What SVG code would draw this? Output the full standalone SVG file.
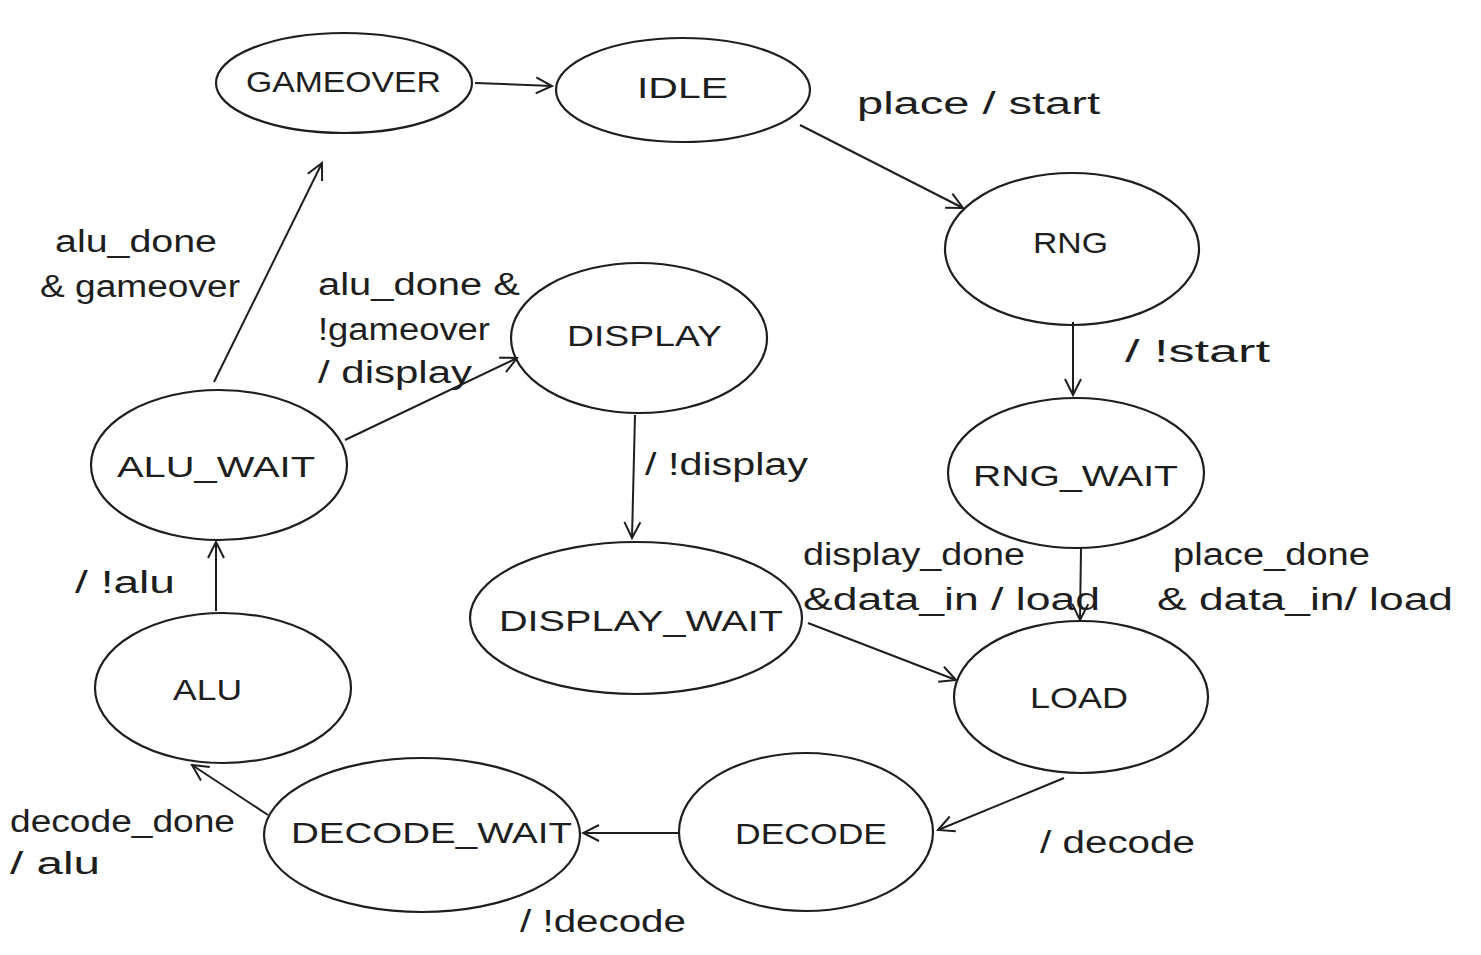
<svg xmlns="http://www.w3.org/2000/svg" width="1481" height="955" viewBox="0 0 1481 955">
<style>
.n ellipse{fill:none;stroke:#1e1e1e;stroke-width:2.2}
.n text{font-family:"Liberation Sans",Arial,sans-serif;font-size:29px;fill:#1e1e1e;text-anchor:start}
.c line{stroke:#1e1e1e;stroke-width:2;fill:none}
.l text{font-family:"Liberation Sans",Arial,sans-serif;font-size:31px;fill:#1e1e1e}
</style>
<defs>
<marker id="a" viewBox="0 0 20 20" refX="18" refY="10" markerWidth="20" markerHeight="20" markerUnits="userSpaceOnUse" orient="auto">
<path d="M2,2 L18,10 L2,18" fill="none" stroke="#1e1e1e" stroke-width="2"/>
</marker>
</defs>
<rect width="1481" height="955" fill="#fff"/>
<g class="n" id="gameover"><ellipse cx="344" cy="83" rx="128" ry="50"/><text x="246" y="92" textLength="195" lengthAdjust="spacingAndGlyphs">GAMEOVER</text></g>
<g class="n" id="idle"><ellipse cx="683" cy="90" rx="127" ry="52"/><text x="637" y="98" textLength="91" lengthAdjust="spacingAndGlyphs">IDLE</text></g>
<g class="n" id="rng"><ellipse cx="1072" cy="249" rx="127" ry="76"/><text x="1033" y="253" textLength="75" lengthAdjust="spacingAndGlyphs">RNG</text></g>
<g class="n" id="rng_wait"><ellipse cx="1076" cy="473" rx="128" ry="75"/><text x="973" y="486" textLength="205" lengthAdjust="spacingAndGlyphs">RNG_WAIT</text></g>
<g class="n" id="display"><ellipse cx="639" cy="338" rx="128" ry="75"/><text x="567" y="346" textLength="155" lengthAdjust="spacingAndGlyphs">DISPLAY</text></g>
<g class="n" id="alu_wait"><ellipse cx="219" cy="465" rx="128" ry="75"/><text x="117" y="477" textLength="198" lengthAdjust="spacingAndGlyphs">ALU_WAIT</text></g>
<g class="n" id="display_wait"><ellipse cx="636" cy="618" rx="166" ry="76"/><text x="499" y="631" textLength="284" lengthAdjust="spacingAndGlyphs">DISPLAY_WAIT</text></g>
<g class="n" id="load"><ellipse cx="1081" cy="697" rx="127" ry="76"/><text x="1030" y="708" textLength="98" lengthAdjust="spacingAndGlyphs">LOAD</text></g>
<g class="n" id="alu"><ellipse cx="223" cy="688" rx="128" ry="75"/><text x="173" y="700" textLength="69" lengthAdjust="spacingAndGlyphs">ALU</text></g>
<g class="n" id="decode_wait"><ellipse cx="422" cy="835" rx="158" ry="77"/><text x="291" y="843" textLength="281" lengthAdjust="spacingAndGlyphs">DECODE_WAIT</text></g>
<g class="n" id="decode"><ellipse cx="806" cy="832" rx="127" ry="79"/><text x="735" y="844" textLength="152" lengthAdjust="spacingAndGlyphs">DECODE</text></g>
<g class="c" id="connectors">
<line x1="475" y1="83" x2="552" y2="86" marker-end="url(#a)"/>
<line x1="800" y1="125" x2="963" y2="208" marker-end="url(#a)"/>
<line x1="1073" y1="322" x2="1073" y2="395" marker-end="url(#a)"/>
<line x1="1081" y1="548" x2="1080" y2="620" marker-end="url(#a)"/>
<line x1="808" y1="623" x2="956" y2="680" marker-end="url(#a)"/>
<line x1="635" y1="415" x2="632" y2="538" marker-end="url(#a)"/>
<line x1="345" y1="440" x2="517" y2="358" marker-end="url(#a)"/>
<line x1="214" y1="382" x2="322" y2="163" marker-end="url(#a)"/>
<line x1="216" y1="611" x2="216" y2="542" marker-end="url(#a)"/>
<line x1="268" y1="815" x2="192" y2="765" marker-end="url(#a)"/>
<line x1="680" y1="833" x2="583" y2="833" marker-end="url(#a)"/>
<line x1="1064" y1="778" x2="938" y2="830" marker-end="url(#a)"/>
</g>
<g class="l" id="labels">
<text x="857" y="114" textLength="243" lengthAdjust="spacingAndGlyphs">place / start</text>
<text x="1125" y="362" textLength="145" lengthAdjust="spacingAndGlyphs">/ !start</text>
<text x="55" y="252" textLength="162" lengthAdjust="spacingAndGlyphs">alu_done</text>
<text x="40" y="297" textLength="200" lengthAdjust="spacingAndGlyphs">&amp; gameover</text>
<text x="318" y="295" textLength="202" lengthAdjust="spacingAndGlyphs">alu_done &amp;</text>
<text x="318" y="340" textLength="172" lengthAdjust="spacingAndGlyphs">!gameover</text>
<text x="318" y="383" textLength="154" lengthAdjust="spacingAndGlyphs">/ display</text>
<text x="645" y="475" textLength="163" lengthAdjust="spacingAndGlyphs">/ !display</text>
<text x="803" y="565" textLength="222" lengthAdjust="spacingAndGlyphs">display_done</text>
<text x="803" y="610" textLength="297" lengthAdjust="spacingAndGlyphs">&amp;data_in / load</text>
<text x="1173" y="565" textLength="197" lengthAdjust="spacingAndGlyphs">place_done</text>
<text x="1157" y="610" textLength="296" lengthAdjust="spacingAndGlyphs">&amp; data_in/ load</text>
<text x="75" y="593" textLength="100" lengthAdjust="spacingAndGlyphs">/ !alu</text>
<text x="10" y="832" textLength="225" lengthAdjust="spacingAndGlyphs">decode_done</text>
<text x="10" y="874" textLength="90" lengthAdjust="spacingAndGlyphs">/ alu</text>
<text x="520" y="932" textLength="166" lengthAdjust="spacingAndGlyphs">/ !decode</text>
<text x="1040" y="853" textLength="155" lengthAdjust="spacingAndGlyphs">/ decode</text>
</g>
</svg>
